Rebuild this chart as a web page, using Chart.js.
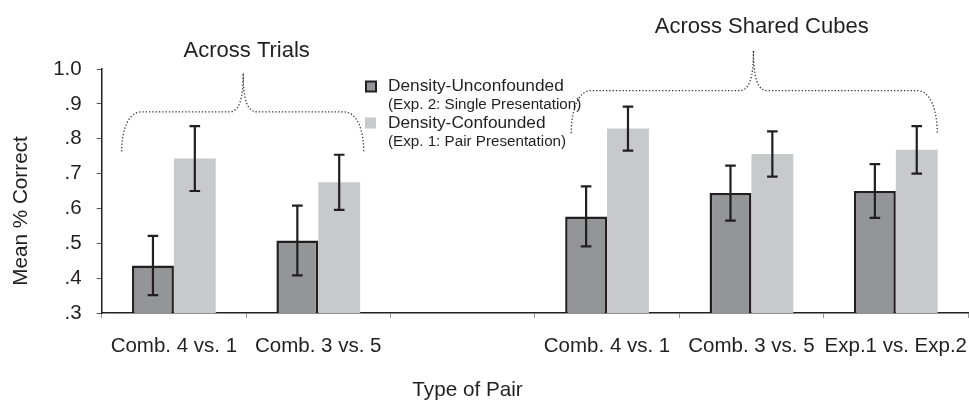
<!DOCTYPE html>
<html>
<head>
<meta charset="utf-8">
<script src="https://cdn.jsdelivr.net/npm/chart.js@4.4.1/dist/chart.umd.min.js"></script>
<style>
  html, body { margin: 0; padding: 0; background: #fff; }
  #wrap { width: 969px; height: 400px; position: relative; }
</style>
</head>
<body>
<div id="wrap"><canvas id="c" width="969" height="400"></canvas></div>
<script>
// ---- Data ----
const categories = ["Comb. 4 vs. 1", "Comb. 3 vs. 5", "", "Comb. 4 vs. 1", "Comb. 3 vs. 5", "Exp.1 vs. Exp.2"];
const unconfounded    = [0.436, 0.508, null, 0.577, 0.644, 0.650];
const unconfoundedErr = [0.085, 0.100, null, 0.086, 0.079, 0.077];
const confounded      = [0.743, 0.675, null, 0.829, 0.756, 0.768];
const confoundedErr   = [0.093, 0.079, null, 0.063, 0.065, 0.068];
const yTickValues = [0.3, 0.4, 0.5, 0.6, 0.7, 0.8, 0.9, 1.0];
const yTickLabels = [".3", ".4", ".5", ".6", ".7", ".8", ".9", "1.0"];
const seriesNames = ["Density-Unconfounded", "Density-Confounded"];
const seriesNotes = ["(Exp. 2: Single Presentation)", "(Exp. 1: Pair Presentation)"];
const groupTitles = ["Across Trials", "Across Shared Cubes"];

// ---- Styling ----
const FONT = "'Liberation Sans', Arial, Helvetica, sans-serif";
const INK = "#231f20";
const DARK = "#939598";
const LIGHT = "#c8c9cb";

// Brace annotations in (category index, value) units
const braces = [
  { xL: -0.362, xP: 0.48, xR: 1.315, yEnd: 0.763, yMid: 0.877, yPeak: 0.988 },
  { xL: 2.752, xP: 4.014, xR: 5.287, yEnd: 0.816, yMid: 0.938, yPeak: 1.054 }
];

const errorBars = {
  id: 'errorBars',
  afterDatasetsDraw(chart) {
    const ctx = chart.ctx;
    const ys = chart.scales.y;
    const errs = [unconfoundedErr, confoundedErr];
    ctx.save();
    ctx.strokeStyle = INK;
    ctx.lineWidth = 2.2;
    chart.data.datasets.forEach((ds, d) => {
      const meta = chart.getDatasetMeta(d);
      meta.data.forEach((el, i) => {
        const v = ds.data[i];
        const e = errs[d][i];
        if (v == null || e == null) return;
        const x = el.x;
        const yT = ys.getPixelForValue(v + e);
        const yB = ys.getPixelForValue(v - e);
        const cap = 5.3;
        ctx.beginPath();
        ctx.moveTo(x, yT); ctx.lineTo(x, yB);
        ctx.moveTo(x - cap, yT); ctx.lineTo(x + cap, yT);
        ctx.moveTo(x - cap, yB); ctx.lineTo(x + cap, yB);
        ctx.stroke();
      });
    });
    ctx.restore();
  }
};

const decorations = {
  id: 'decorations',
  afterDraw(chart) {
    const ctx = chart.ctx;
    const xs = chart.scales.x, ys = chart.scales.y;
    ctx.save();
    // Braces
    ctx.strokeStyle = "#333";
    ctx.lineWidth = 1.3;
    ctx.setLineDash([1.3, 2.0]);
    braces.forEach(b => {
      const xL = xs.getPixelForValue(b.xL), xR = xs.getPixelForValue(b.xR), xP = xs.getPixelForValue(b.xP);
      const yE = ys.getPixelForValue(b.yEnd), yM = ys.getPixelForValue(b.yMid), yP = ys.getPixelForValue(b.yPeak);
      const r = 20, t = 14;
      ctx.beginPath();
      ctx.moveTo(xL, yE);
      ctx.bezierCurveTo(xL, yE - (yE - yM) * 0.5, xL + r * 0.3, yM, xL + r, yM);
      ctx.lineTo(xP - t, yM);
      ctx.bezierCurveTo(xP - t * 0.3, yM, xP, yM - (yM - yP) * 0.3, xP, yP);
      ctx.bezierCurveTo(xP, yM - (yM - yP) * 0.3, xP + t * 0.3, yM, xP + t, yM);
      ctx.lineTo(xR - r, yM);
      ctx.bezierCurveTo(xR - r * 0.3, yM, xR, yE - (yE - yM) * 0.5, xR, yE);
      ctx.stroke();
    });
    ctx.setLineDash([]);

    // Group titles
    ctx.fillStyle = INK;
    ctx.font = "22px " + FONT;
    ctx.textAlign = "center";
    ctx.textBaseline = "alphabetic";
    ctx.fillText(groupTitles[0], 246.7, 57.3);
    ctx.fillText(groupTitles[1], 761.7, 33.3);

    // Legend
    const lx = 366, tx = 388;
    ctx.fillStyle = DARK;
    ctx.fillRect(lx, 81.5, 10, 10);
    ctx.strokeStyle = INK; ctx.lineWidth = 2;
    ctx.strokeRect(lx, 81.5, 10, 10);
    ctx.fillStyle = LIGHT;
    ctx.fillRect(lx - 1, 117.5, 11, 11);
    ctx.fillStyle = INK;
    ctx.textAlign = "left";
    ctx.textBaseline = "middle";
    ctx.font = "17.3px " + FONT;
    ctx.fillText(seriesNames[0], tx, 86.5);
    ctx.fillText(seriesNames[1], tx, 123.5);
    ctx.font = "15.2px " + FONT;
    ctx.fillText(seriesNotes[0], tx, 105);
    ctx.fillText(seriesNotes[1], tx, 142);

    // Axis titles
    ctx.font = "20.7px " + FONT;
    ctx.textAlign = "center";
    ctx.fillText("Type of Pair", 467.5, 390);
    ctx.save();
    ctx.translate(21.7, 211);
    ctx.rotate(-Math.PI / 2);
    ctx.fillText("Mean % Correct", 0, 0);
    ctx.restore();
    ctx.restore();
  }
};

new Chart(document.getElementById('c'), {
  type: 'bar',
  data: {
    labels: categories,
    datasets: [
      { label: seriesNames[0], data: unconfounded, backgroundColor: DARK, borderColor: INK, borderWidth: 2.5, borderSkipped: false },
      { label: seriesNames[1], data: confounded, backgroundColor: LIGHT, borderWidth: 0 }
    ]
  },
  options: {
    responsive: false,
    animation: false,
    devicePixelRatio: 1,
    layout: { padding: { top: 69, right: 1, left: 0, bottom: 0 } },
    datasets: { bar: { categoryPercentage: 0.58, barPercentage: 1.0 } },
    plugins: { legend: { display: false }, tooltip: { enabled: false }, title: { display: false } },
    scales: {
      x: {
        offset: true,
        grid: { display: true, offset: true, drawOnChartArea: false, drawTicks: true, tickLength: 5, color: "#9a9a9a", lineWidth: 1 },
        border: { display: true, color: INK, width: 1.5 },
        ticks: { autoSkip: false, maxRotation: 0, minRotation: 0, padding: 16, color: INK, font: { family: FONT, size: 20.5 } },
        afterFit(scale) { scale.height = 87; scale.paddingLeft = 0; scale.paddingRight = 0; }
      },
      y: {
        min: 0.3, max: 1.0,
        afterBuildTicks(scale) { scale.ticks = yTickValues.map(v => ({ value: v })); },
        grid: { display: true, drawOnChartArea: false, drawTicks: true, tickLength: 5, color: "#555", lineWidth: 1 },
        border: { display: true, color: INK, width: 1.5 },
        ticks: {
          padding: 15, color: INK, font: { family: FONT, size: 20.5 },
          callback(value) { const i = yTickValues.findIndex(t => Math.abs(t - value) < 1e-6); return i >= 0 ? yTickLabels[i] : ''; }
        },
        afterFit(scale) { scale.width = 101.7; scale.paddingTop = 0; scale.paddingBottom = 0; }
      }
    }
  },
  plugins: [errorBars, decorations]
});
</script>
</body>
</html>
